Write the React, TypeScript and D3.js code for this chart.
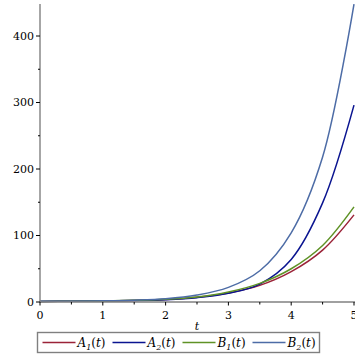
import React from "react";
import * as d3 from "d3";

const tValues = [0, 0.5, 1, 1.5, 2, 2.5, 3, 3.5, 4, 4.5, 5];
const A1 = [0.8, 1.1, 1.5, 2.3, 3.7, 7, 13.5, 25, 45.6, 78, 131];
const A2 = [0.8, 1.1, 1.5, 2.2, 3.5, 6.5, 13, 27, 64, 149, 296];
const B1 = [0.8, 1.1, 1.6, 2.5, 4, 7.5, 15, 28, 50, 85, 143];
const B2 = [1, 1.3, 1.8, 2.8, 5, 10.5, 22, 47, 104, 218, 448];

const seriesNames = ["A", "A", "B", "B"];
const seriesSubs = ["1", "2", "1", "2"];
const seriesColors = ["#9b2338", "#0a1490", "#5f9226", "#4d6ca6"];
const seriesData = [A1, A2, B1, B2];

const xTicks = [0, 1, 2, 3, 4, 5];
const xMinor = [0.5, 1.5, 2.5, 3.5, 4.5];
const yTicks = [0, 100, 200, 300, 400];
const yMinor = [50, 150, 250, 350];

export default function App() {
  const x = d3.scaleLinear().domain([0, 5]).range([40, 354]);
  const y = d3.scaleLinear().domain([0, 400]).range([302, 36]);
  const line = d3
    .line<[number, number]>()
    .x((d) => x(d[0]))
    .y((d) => y(d[1]))
    .curve(d3.curveCatmullRom.alpha(0.5));
  const axisColor = "#808080";
  const font = "DejaVu Serif, Liberation Serif, serif";
  const legendX0 = 42.5;
  const legendStep = 70;

  return (
    <svg
      width={355}
      height={355}
      style={{ position: "absolute", left: 0, top: 0, fontFamily: font }}
    >
      <defs>
        <clipPath id="plotclip">
          <rect x={40} y={3} width={315} height={300} />
        </clipPath>
      </defs>
      <g clipPath="url(#plotclip)">
        {seriesData.map((s, i) => (
          <path
            key={i}
            d={line(tValues.map((t, j) => [t, s[j]] as [number, number])) || ""}
            fill="none"
            stroke={seriesColors[i]}
            strokeWidth={1.5}
          />
        ))}
      </g>
      {/* y axis */}
      <line x1={40} x2={40} y1={4} y2={302.5} stroke={axisColor} strokeWidth={1.4} />
      {yTicks.map((v) => (
        <g key={v}>
          <line x1={36} x2={40} y1={y(v)} y2={y(v)} stroke="#000" strokeWidth={1} />
          <text x={34} y={y(v)} dy="0.35em" textAnchor="end" fontSize={11} style={{ fontFamily: font }}>
            {v}
          </text>
        </g>
      ))}
      {yMinor.map((v) => (
        <line key={v} x1={38} x2={40} y1={y(v)} y2={y(v)} stroke="#000" strokeWidth={1} />
      ))}
      {/* x axis */}
      <line x1={40} x2={355} y1={302} y2={302} stroke={axisColor} strokeWidth={1.4} />
      {xTicks.map((v) => (
        <g key={v}>
          <line x1={x(v)} x2={x(v)} y1={302} y2={305.5} stroke="#000" strokeWidth={1} />
          <text x={x(v)} y={319} textAnchor="middle" fontSize={11} style={{ fontFamily: font }}>
            {v}
          </text>
        </g>
      ))}
      {xMinor.map((v) => (
        <line key={v} x1={x(v)} x2={x(v)} y1={302} y2={304.5} stroke="#000" strokeWidth={1} />
      ))}
      <text x={197} y={330} textAnchor="middle" fontSize={11} fontStyle="italic" style={{ fontFamily: font }}>
        t
      </text>
      {/* legend */}
      <rect x={37.5} y={332.5} width={282} height={20} fill="none" stroke={axisColor} strokeWidth={1.4} />
      {seriesNames.map((n, i) => {
        const lx = legendX0 + i * legendStep;
        return (
          <g key={i}>
            <line x1={lx} x2={lx + 33} y1={342.5} y2={342.5} stroke={seriesColors[i]} strokeWidth={1.5} />
            <text x={lx + 35} y={347} fontSize={12} style={{ fontFamily: font }}>
              <tspan fontStyle="italic">{n}</tspan>
              <tspan fontStyle="italic" fontSize={8} dy={3}>
                {seriesSubs[i]}
              </tspan>
              <tspan dy={-3}>(</tspan>
              <tspan fontStyle="italic">t</tspan>
              <tspan>)</tspan>
            </text>
          </g>
        );
      })}
    </svg>
  );
}
